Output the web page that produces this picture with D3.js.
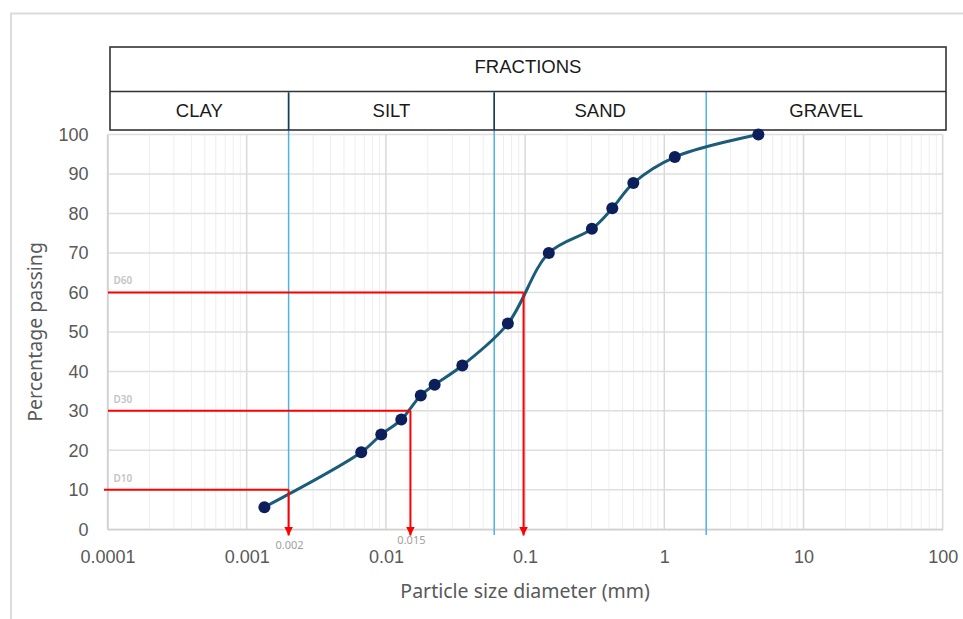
<!DOCTYPE html>
<html>
<head>
<meta charset="utf-8">
<script src="https://cdn.jsdelivr.net/npm/d3@7/dist/d3.min.js"></script>
<style>
  html, body { margin: 0; padding: 0; background: #fff; }
  svg { display: block; font-family: "Noto Sans", "Open Sans", Arial, sans-serif; }
</style>
</head>
<body>
<svg id="chart" width="963" height="619"></svg>
<script>
// Grain size distribution: sieve / hydrometer results
const sizes   = [0.00134, 0.00665, 0.00926, 0.0129, 0.0178, 0.0224, 0.0354, 0.0752, 0.148, 0.302, 0.423, 0.599, 1.19, 4.74];
const passing = [5.6, 19.5, 24.0, 27.8, 33.9, 36.6, 41.5, 52.1, 70.0, 76.1, 81.3, 87.7, 94.3, 100];

// Characteristic diameters (D10, D30, D60)
const dLabels  = ["D10", "D30", "D60"];
const dPercent = [10, 30, 60];
const dSize    = [0.002, 0.015, 0.0975];
const dSizeText = ["0.002", "0.015", ""];

// Soil fraction limits (mm) and names
const fractionLimits = [0.002, 0.06, 2];
const fractionNames  = ["CLAY", "SILT", "SAND", "GRAVEL"];
const headerTitle = "FRACTIONS";

// Axis ticks
const xTicks = [0.0001, 0.001, 0.01, 0.1, 1, 10, 100];
const xTickText = ["0.0001", "0.001", "0.01", "0.1", "1", "10", "100"];
const yTicks = [0, 10, 20, 30, 40, 50, 60, 70, 80, 90, 100];

const svg = d3.select("#chart");

const x = d3.scaleLog().domain([0.0001, 100]).range([107.5, 942.7]);
const y = d3.scaleLinear().domain([0, 100]).range([529.3, 134.5]);

// outer frame (only top and left edges visible)
svg.append("path")
  .attr("d", "M11,1000 L11,13.5 L1000,13.5")
  .attr("fill", "none").attr("stroke", "#dcdcdc").attr("stroke-width", 2);

const grid = svg.append("g");

// minor vertical grid
const minor = [];
for (let e = -4; e < 2; e++) {
  for (let m = 2; m <= 9; m++) minor.push(m * Math.pow(10, e));
}
grid.selectAll("line.minor").data(minor).join("line")
  .attr("x1", d => x(d)).attr("x2", d => x(d))
  .attr("y1", y(100)).attr("y2", y(0))
  .attr("stroke", "#eeeeee").attr("stroke-width", 1);

// horizontal grid
grid.selectAll("line.h").data(yTicks).join("line")
  .attr("x1", x(0.0001)).attr("x2", x(100))
  .attr("y1", d => y(d)).attr("y2", d => y(d))
  .attr("stroke", "#dedede").attr("stroke-width", 1.5);

// major vertical grid
grid.selectAll("line.major").data(xTicks).join("line")
  .attr("x1", d => x(d)).attr("x2", d => x(d))
  .attr("y1", y(100)).attr("y2", y(0))
  .attr("stroke", "#d9d9d9").attr("stroke-width", 1.5);

// axes
const xAxis = svg.append("g")
  .attr("transform", `translate(0,${y(0)})`)
  .call(d3.axisBottom(x).tickValues(xTicks).tickFormat((d, i) => xTickText[i]).tickSize(0).tickPadding(21));
xAxis.select(".domain").attr("stroke", "#d0d0d0").attr("stroke-width", 1.5);
xAxis.selectAll("text").attr("fill", "#595959").attr("font-size", 18).attr("font-family", null);

const yAxis = svg.append("g")
  .attr("transform", `translate(${x(0.0001)},0)`)
  .call(d3.axisLeft(y).tickValues(yTicks).tickSize(0).tickPadding(19));
yAxis.select(".domain").attr("stroke", "#d0d0d0").attr("stroke-width", 1.5);
yAxis.selectAll("text").attr("fill", "#595959").attr("font-size", 18).attr("font-family", null);

// axis titles
svg.append("text")
  .attr("x", (x(0.0001) + x(100)) / 2).attr("y", 598)
  .attr("text-anchor", "middle").attr("fill", "#595959").attr("font-size", 19.5)
  .text("Particle size diameter (mm)");
svg.append("text")
  .attr("transform", `translate(42,${(y(0) + y(100)) / 2}) rotate(-90)`)
  .attr("text-anchor", "middle").attr("fill", "#595959").attr("font-size", 19.5)
  .text("Percentage passing");

// fraction header table
const hx0 = 110, hx1 = 946, hy0 = 47, hy1 = 91.5, hy2 = 130;
const bounds = [hx0, ...fractionLimits.map(d => x(d)), hx1];

// fraction limit lines
svg.selectAll("line.limit").data(fractionLimits).join("line")
  .attr("x1", d => x(d)).attr("x2", d => x(d))
  .attr("y1", hy1).attr("y2", 535)
  .attr("stroke", "#4fb2e3").attr("stroke-width", 1.5);

const header = svg.append("g").attr("font-family", "'Liberation Sans', Arial, sans-serif");
header.append("rect")
  .attr("x", hx0).attr("y", hy0).attr("width", hx1 - hx0).attr("height", hy2 - hy0)
  .attr("fill", "none").attr("stroke", "#333").attr("stroke-width", 1.6);
header.append("line")
  .attr("x1", hx0).attr("x2", hx1).attr("y1", hy1).attr("y2", hy1)
  .attr("stroke", "#333").attr("stroke-width", 1.6);
header.selectAll("line.div").data(fractionLimits.slice(0, 2)).join("line")
  .attr("x1", d => x(d)).attr("x2", d => x(d))
  .attr("y1", hy1 + 1).attr("y2", hy2)
  .attr("stroke", "#1c3c4c").attr("stroke-width", 1.6);
header.append("text")
  .attr("x", (hx0 + hx1) / 2).attr("y", 72.5)
  .attr("text-anchor", "middle").attr("fill", "#1a1a1a").attr("font-size", 18.5)
  .text(headerTitle);
header.selectAll("text.frac").data(fractionNames).join("text")
  .attr("x", (d, i) => (bounds[i] + bounds[i + 1]) / 2).attr("y", 117)
  .attr("text-anchor", "middle").attr("fill", "#1a1a1a").attr("font-size", 18.5)
  .text(d => d);

// smoothed grading curve
const pts = sizes.map((s, i) => [s, passing[i]]);
svg.append("path")
  .datum(pts)
  .attr("d", d3.line().x(d => x(d[0])).y(d => y(d[1])).curve(d3.curveCatmullRom.alpha(0.5)))
  .attr("fill", "none").attr("stroke", "#1b5c79").attr("stroke-width", 3);

// D-value guide lines with arrows
svg.append("defs").append("marker")
  .attr("id", "arrow").attr("viewBox", "0 0 10 10")
  .attr("refX", 10).attr("refY", 5)
  .attr("markerWidth", 9).attr("markerHeight", 9).attr("markerUnits", "userSpaceOnUse")
  .attr("orient", "auto")
  .append("path").attr("d", "M0,0 L10,5 L0,10 Z").attr("fill", "#ff0000");

const guides = svg.append("g");
dPercent.forEach((p, i) => {
  const xs = x(dSize[i]), ys = y(p);
  guides.append("line")
    .attr("x1", i === 0 ? x(0.0001) - 3.5 : x(0.0001) + 0.5).attr("x2", xs)
    .attr("y1", ys).attr("y2", ys)
    .attr("stroke", "#ff0000").attr("stroke-width", 2);
  guides.append("line")
    .attr("x1", xs).attr("x2", xs)
    .attr("y1", ys).attr("y2", 535.5)
    .attr("stroke", "#ff0000").attr("stroke-width", 2)
    .attr("marker-end", "url(#arrow)");
  guides.append("text")
    .attr("x", x(0.0001) + 6).attr("y", ys - 8)
    .attr("fill", "#c4c4c4").attr("font-size", 10).attr("font-weight", 600)
    .text(dLabels[i]);
  if (dSizeText[i]) {
    guides.append("text")
      .attr("x", xs + 1).attr("y", i === 0 ? 549 : 544)
      .attr("text-anchor", "middle")
      .attr("fill", "#a0a0a0").attr("font-size", 11)
      .text(dSizeText[i]);
  }
});

// data points
svg.selectAll("circle.pt").data(pts).join("circle")
  .attr("cx", d => x(d[0])).attr("cy", d => y(d[1])).attr("r", 6)
  .attr("fill", "#0c1f5a");
</script>
</body>
</html>
